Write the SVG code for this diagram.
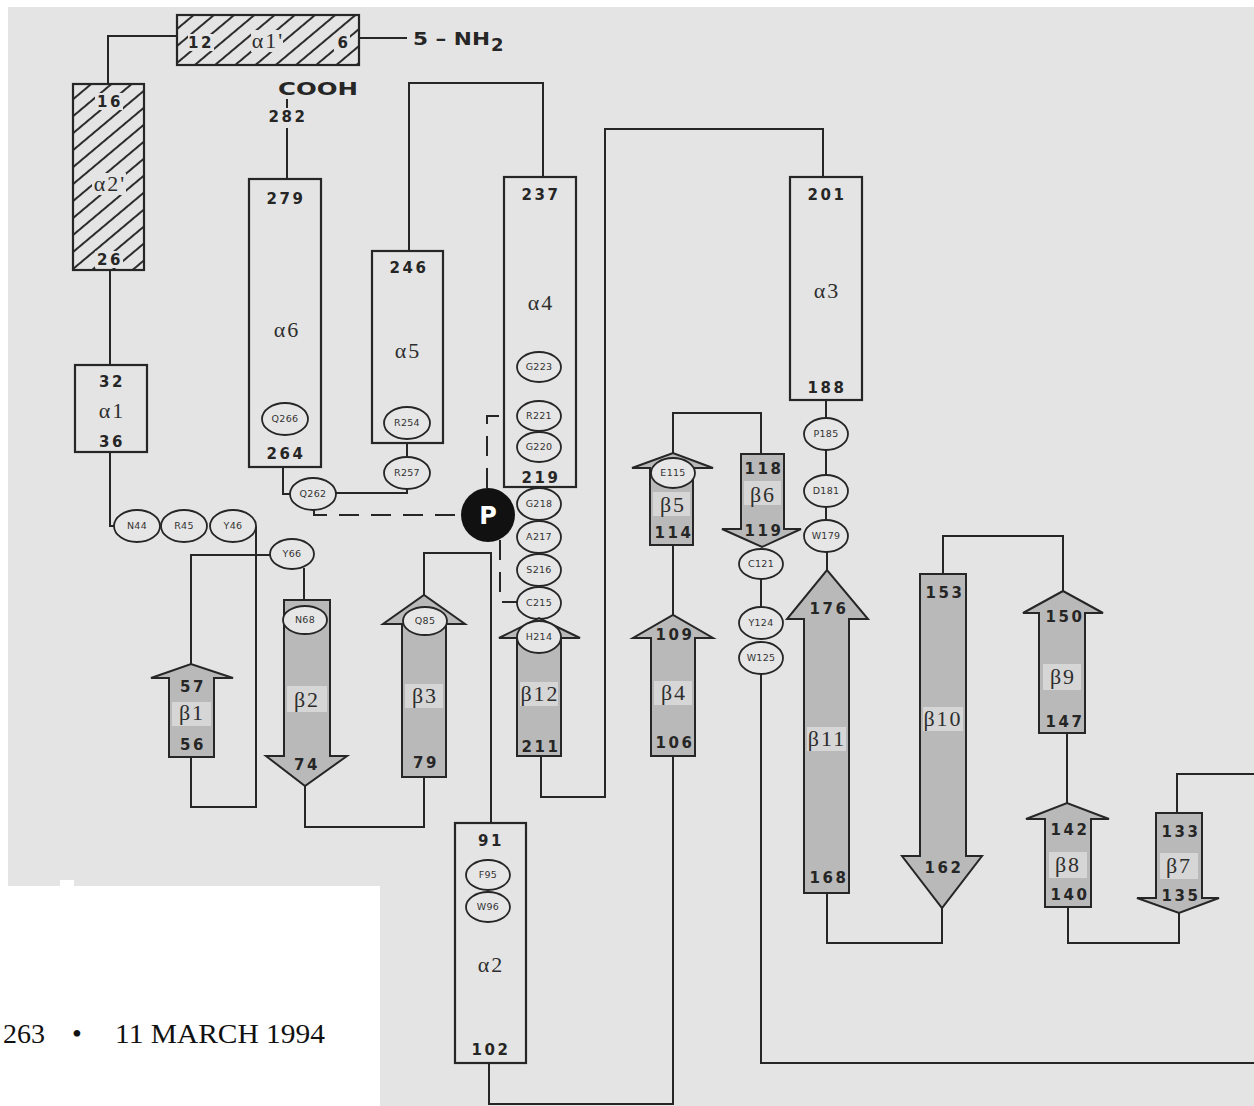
<svg xmlns="http://www.w3.org/2000/svg" width="1254" height="1106" viewBox="0 0 1254 1106">
<defs>
<pattern id="hatch" width="13" height="13" patternUnits="userSpaceOnUse" patternTransform="rotate(-40)">
<line x1="0" y1="6" x2="13" y2="6" stroke="#2c2c2c" stroke-width="2"/>
</pattern>
<style>
.ln{fill:none;stroke:#262626;stroke-width:2}
.dash{fill:none;stroke:#262626;stroke-width:2;stroke-dasharray:20 12}
.helix{fill:none;stroke:#262626;stroke-width:2.2}
.hatch{fill:url(#hatch);stroke:#262626;stroke-width:2.2}
.clear{fill:#e4e4e4}
.strand{fill:#b9b9b9;stroke:#262626;stroke-width:2}
.hl{fill:#d6d6d6}
.res{fill:#e6e6e6;stroke:#262626;stroke-width:1.8}
.num{font-family:"DejaVu Sans",sans-serif;font-weight:bold;font-size:15px;letter-spacing:2.5px;fill:#262626;text-anchor:middle}
.greek{font-family:"Liberation Serif",serif;font-size:22px;letter-spacing:2px;fill:#2e2e2e;text-anchor:middle}
.rl{font-family:"DejaVu Sans",sans-serif;font-size:9.5px;letter-spacing:0.3px;fill:#333;text-anchor:middle}
.term{font-family:"DejaVu Sans",sans-serif;font-weight:bold;font-size:18px;fill:#262626}
.foot{font-family:"Liberation Serif",serif;font-size:28px;fill:#111}
</style>
</defs>
<rect x="0" y="0" width="1254" height="1106" fill="#ffffff"/>
<path d="M8,7 H1254 V1106 H380 V886 H8 Z" fill="#e4e4e4"/>
<rect x="60" y="880" width="14" height="8" fill="#ffffff"/>

<g id="connectors">
<path class="ln" d="M359,38 H407"/>
<path class="ln" d="M177,36 H108 V84"/>
<path class="ln" d="M110,270 V365"/>
<path class="ln" d="M110,452 V526 H114"/>
<path class="ln" d="M256,526 V807 H191 V757"/>
<path class="ln" d="M191,664 V555 H270"/>
<path class="ln" d="M304,568 V600"/>
<path class="ln" d="M305,786 V827 H424 V777"/>
<path class="ln" d="M424,595 V553 H491 V823"/>
<path class="ln" d="M489,1063 V1104 H673 V756"/>
<path class="ln" d="M673,615 V545"/>
<path class="ln" d="M673,453 V413 H761 V454"/>
<path class="ln" d="M761,579 V608"/>
<path class="ln" d="M761,674 V1063 H1254"/>
<path class="ln" d="M1177,813 V774 H1254"/>
<path class="ln" d="M1179,913 V943 H1068 V907"/>
<path class="ln" d="M1067,803 V733"/>
<path class="ln" d="M1063,591 V536 H943 V574"/>
<path class="ln" d="M942,908 V943 H827 V893"/>
<path class="ln" d="M827,570 V552"/>
<path class="ln" d="M826,507 V520"/>
<path class="ln" d="M826,450 V475"/>
<path class="ln" d="M826,400 V418"/>
<path class="ln" d="M823,177 V129 H605 V797 H541 V756"/>
<path class="ln" d="M543,177 V83 H409 V251"/>
<path class="ln" d="M407,443 V457"/>
<path class="ln" d="M407,489 V493 H336"/>
<path class="ln" d="M283,467 V494 H290"/>
<path class="ln" d="M287,179 V128"/>
<path class="ln" d="M287,99 V108"/>
<path class="dash" d="M314,508 V515 H461"/>
<path class="dash" d="M487,488 V416 H504"/>
<path class="dash" d="M500,540 V602 H517"/>
</g>

<g id="terminus-N">
<text class="term" x="413" y="45" textLength="77" lengthAdjust="spacingAndGlyphs">5 – NH</text>
<text class="term" x="491" y="51" font-size="12">2</text>
</g>
<g id="terminus-C">
<text class="term" x="278" y="95" textLength="80" lengthAdjust="spacingAndGlyphs">COOH</text>
<text class="num" x="288" y="122">282</text>
</g>

<g id="alpha1p">
<rect class="hatch" x="177" y="15" width="182" height="50"/>
<rect class="clear" x="188" y="34" width="26" height="17"/>
<rect class="clear" x="251" y="30" width="32" height="22"/>
<rect class="clear" x="334" y="34" width="16" height="17"/>
<text class="num" x="201" y="48">12</text>
<text class="greek" x="268" y="48">α1'</text>
<text class="num" x="344" y="48">6</text>
</g>
<g id="alpha2p">
<rect class="hatch" x="73" y="84" width="71" height="186"/>
<rect class="clear" x="95" y="93" width="28" height="17"/>
<rect class="clear" x="92" y="173" width="34" height="22"/>
<rect class="clear" x="95" y="251" width="28" height="17"/>
<text class="num" x="110" y="107">16</text>
<text class="greek" x="110" y="191">α2'</text>
<text class="num" x="110" y="265">26</text>
</g>
<g id="alpha1">
<rect class="helix" x="75" y="365" width="72" height="87"/>
<text class="num" x="112" y="387">32</text>
<text class="greek" x="112" y="418">α1</text>
<text class="num" x="112" y="447">36</text>
</g>
<g id="alpha6">
<rect class="helix" x="249" y="179" width="72" height="288"/>
<text class="num" x="286" y="204">279</text>
<text class="greek" x="287" y="337">α6</text>
<ellipse class="res" cx="285" cy="419" rx="23" ry="16"/>
<text class="rl" x="285" y="422">Q266</text>
<text class="num" x="286" y="459">264</text>
</g>
<g id="alpha5">
<rect class="helix" x="372" y="251" width="71" height="192"/>
<text class="num" x="409" y="273">246</text>
<text class="greek" x="408" y="358">α5</text>
<ellipse class="res" cx="407" cy="423" rx="23" ry="16"/>
<text class="rl" x="407" y="426">R254</text>
</g>
<g id="alpha4">
<rect class="helix" x="504" y="177" width="72" height="310"/>
<text class="num" x="541" y="200">237</text>
<text class="greek" x="541" y="310">α4</text>
<ellipse class="res" cx="539" cy="367" rx="22" ry="15"/>
<text class="rl" x="539" y="370">G223</text>
<ellipse class="res" cx="539" cy="416" rx="22" ry="15"/>
<text class="rl" x="539" y="419">R221</text>
<ellipse class="res" cx="539" cy="447" rx="22" ry="15"/>
<text class="rl" x="539" y="450">G220</text>
<text class="num" x="541" y="483">219</text>
</g>
<g id="alpha3">
<rect class="helix" x="790" y="177" width="72" height="223"/>
<text class="num" x="827" y="200">201</text>
<text class="greek" x="827" y="298">α3</text>
<text class="num" x="827" y="393">188</text>
</g>
<g id="alpha2">
<rect class="helix" x="455" y="823" width="71" height="240"/>
<text class="num" x="491" y="846">91</text>
<ellipse class="res" cx="488" cy="875" rx="22" ry="15"/>
<text class="rl" x="488" y="878">F95</text>
<ellipse class="res" cx="488" cy="907" rx="22" ry="15"/>
<text class="rl" x="488" y="910">W96</text>
<text class="greek" x="491" y="972">α2</text>
<text class="num" x="491" y="1055">102</text>
</g>

<g id="loop-44-46">
<ellipse class="res" cx="137" cy="526" rx="23" ry="16"/>
<text class="rl" x="137" y="529">N44</text>
<ellipse class="res" cx="184" cy="526" rx="23" ry="16"/>
<text class="rl" x="184" y="529">R45</text>
<ellipse class="res" cx="233" cy="526" rx="23" ry="16"/>
<text class="rl" x="233" y="529">Y46</text>
</g>
<g id="res-Y66">
<ellipse class="res" cx="292" cy="554" rx="22" ry="15"/>
<text class="rl" x="292" y="557">Y66</text>
</g>
<g id="res-R257">
<ellipse class="res" cx="407" cy="473" rx="23" ry="16"/>
<text class="rl" x="407" y="476">R257</text>
</g>
<g id="res-Q262">
<ellipse class="res" cx="313" cy="494" rx="23" ry="16"/>
<text class="rl" x="313" y="497">Q262</text>
</g>
<g id="loop-214-218">
<ellipse class="res" cx="539" cy="504" rx="22" ry="16"/>
<text class="rl" x="539" y="507">G218</text>
<ellipse class="res" cx="539" cy="537" rx="22" ry="16"/>
<text class="rl" x="539" y="540">A217</text>
<ellipse class="res" cx="539" cy="570" rx="22" ry="16"/>
<text class="rl" x="539" y="573">S216</text>
<ellipse class="res" cx="539" cy="603" rx="22" ry="16"/>
<text class="rl" x="539" y="606">C215</text>
</g>
<g id="phosphate">
<circle cx="488" cy="515" r="27" fill="#111"/>
<text x="488" y="524" font-family="DejaVu Sans,sans-serif" font-weight="bold" font-size="24" fill="#ffffff" text-anchor="middle">P</text>
</g>
<g id="loop-179-185">
<ellipse class="res" cx="826" cy="434" rx="22" ry="16"/>
<text class="rl" x="826" y="437">P185</text>
<ellipse class="res" cx="826" cy="491" rx="22" ry="16"/>
<text class="rl" x="826" y="494">D181</text>
<ellipse class="res" cx="826" cy="536" rx="22" ry="16"/>
<text class="rl" x="826" y="539">W179</text>
</g>

<g id="beta1">
<polygon class="strand" points="169,757 169,678 151,678 191,664 233,678 214,678 214,757"/>
<rect class="hl" x="172" y="702" width="39" height="24"/>
<text class="num" x="193" y="692">57</text>
<text class="greek" x="192" y="720">β1</text>
<text class="num" x="193" y="750">56</text>
</g>
<g id="beta2">
<polygon class="strand" points="284,600 330,600 330,756 347,756 305,786 266,756 284,756"/>
<rect class="hl" x="287" y="686" width="40" height="26"/>
<ellipse class="res" cx="305" cy="620" rx="22" ry="14"/>
<text class="rl" x="305" y="623">N68</text>
<text class="greek" x="307" y="707">β2</text>
<text class="num" x="307" y="770">74</text>
</g>
<g id="beta3">
<polygon class="strand" points="402,777 402,624 383,624 424,595 465,624 446,624 446,777"/>
<rect class="hl" x="405" y="684" width="38" height="24"/>
<ellipse class="res" cx="425" cy="621" rx="22" ry="14"/>
<text class="rl" x="425" y="624">Q85</text>
<text class="greek" x="425" y="703">β3</text>
<text class="num" x="426" y="768">79</text>
</g>
<g id="beta12">
<polygon class="strand" points="517,756 517,638 499,638 539,618 580,638 561,638 561,756"/>
<rect class="hl" x="520" y="682" width="38" height="24"/>
<ellipse class="res" cx="539" cy="637" rx="22" ry="16"/>
<text class="rl" x="539" y="640">H214</text>
<text class="greek" x="540" y="701">β12</text>
<text class="num" x="541" y="752">211</text>
</g>
<g id="beta4">
<polygon class="strand" points="651,756 651,638 633,638 673,615 713,638 695,638 695,756"/>
<rect class="hl" x="654" y="681" width="38" height="24"/>
<text class="num" x="675" y="640">109</text>
<text class="greek" x="674" y="700">β4</text>
<text class="num" x="675" y="748">106</text>
</g>
<g id="beta5">
<polygon class="strand" points="650,545 650,468 632,468 673,453 713,468 693,468 693,545"/>
<rect class="hl" x="653" y="492" width="37" height="24"/>
<ellipse class="res" cx="673" cy="473" rx="22" ry="15"/>
<text class="rl" x="673" y="476">E115</text>
<text class="greek" x="673" y="512">β5</text>
<text class="num" x="674" y="538">114</text>
</g>
<g id="beta6">
<polygon class="strand" points="741,454 784,454 784,529 801,529 762,547 722,529 741,529"/>
<rect class="hl" x="744" y="481" width="37" height="24"/>
<text class="num" x="764" y="474">118</text>
<text class="greek" x="763" y="502">β6</text>
<text class="num" x="764" y="536">119</text>
</g>
<g id="loop-121-125">
<ellipse class="res" cx="761" cy="564" rx="22" ry="15"/>
<text class="rl" x="761" y="567">C121</text>
<ellipse class="res" cx="761" cy="623" rx="22" ry="16"/>
<text class="rl" x="761" y="626">Y124</text>
<ellipse class="res" cx="761" cy="658" rx="22" ry="16"/>
<text class="rl" x="761" y="661">W125</text>
</g>
<g id="beta11">
<polygon class="strand" points="804,893 804,619 787,619 827,570 868,619 849,619 849,893"/>
<rect class="hl" x="807" y="727" width="39" height="24"/>
<text class="num" x="829" y="614">176</text>
<text class="greek" x="827" y="746">β11</text>
<text class="num" x="829" y="883">168</text>
</g>
<g id="beta10">
<polygon class="strand" points="920,574 966,574 966,856 982,856 942,908 902,856 920,856"/>
<rect class="hl" x="923" y="707" width="40" height="24"/>
<text class="num" x="945" y="598">153</text>
<text class="greek" x="943" y="726">β10</text>
<text class="num" x="944" y="873">162</text>
</g>
<g id="beta9">
<polygon class="strand" points="1039,733 1039,613 1023,613 1063,591 1103,613 1085,613 1085,733"/>
<rect class="hl" x="1043" y="664" width="38" height="26"/>
<text class="num" x="1065" y="622">150</text>
<text class="greek" x="1063" y="684">β9</text>
<text class="num" x="1065" y="727">147</text>
</g>
<g id="beta8">
<polygon class="strand" points="1045,907 1045,819 1026,819 1067,803 1109,819 1091,819 1091,907"/>
<rect class="hl" x="1049" y="852" width="38" height="26"/>
<text class="num" x="1070" y="835">142</text>
<text class="greek" x="1068" y="872">β8</text>
<text class="num" x="1070" y="900">140</text>
</g>
<g id="beta7">
<polygon class="strand" points="1156,813 1202,813 1202,898 1219,898 1179,913 1137,898 1156,898"/>
<rect class="hl" x="1160" y="853" width="38" height="26"/>
<text class="num" x="1181" y="837">133</text>
<text class="greek" x="1179" y="873">β7</text>
<text class="num" x="1181" y="901">135</text>
</g>

<g id="footer">
<text class="foot" y="1043"><tspan x="3">263</tspan><tspan x="72">•</tspan><tspan x="115" textLength="210" lengthAdjust="spacingAndGlyphs">11 MARCH 1994</tspan></text>
</g>
</svg>
